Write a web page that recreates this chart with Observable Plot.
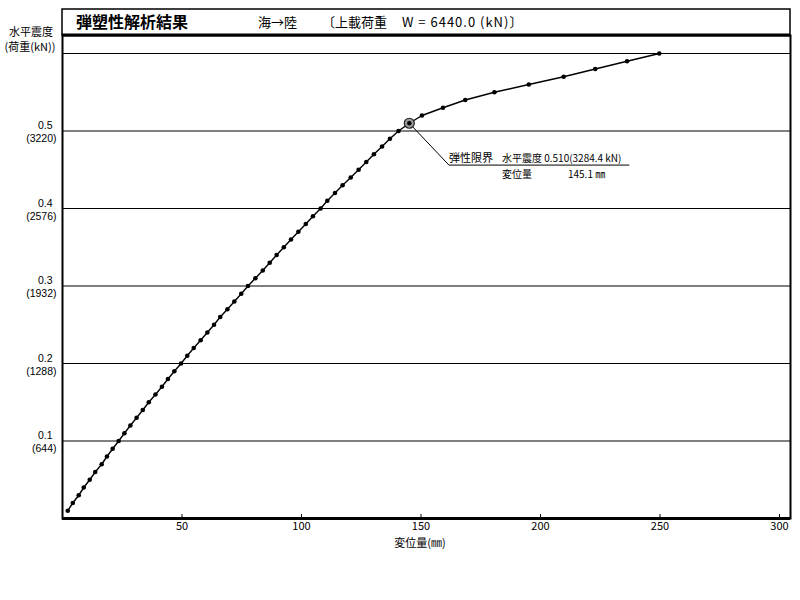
<!DOCTYPE html>
<html><head><meta charset="utf-8">
<script src="https://cdn.jsdelivr.net/npm/d3@7"></script>
<script src="https://cdn.jsdelivr.net/npm/@observablehq/plot@0.6"></script>
<style>
body{margin:0;background:#fff;}
svg{display:block;font-family:"Noto Sans CJK JP","Noto Sans",sans-serif;}
</style>
</head><body><div id="chart"></div>
<script>
// ---- data ----
const W = 6440.0; // 上載荷重 (kN)
const coef = [0.01,0.02,0.03,0.04,0.05,0.06,0.07,0.08,0.09,0.10,
  0.11,0.12,0.13,0.14,0.15,0.16,0.17,0.18,0.19,0.20,
  0.21,0.22,0.23,0.24,0.25,0.26,0.27,0.28,0.29,0.30,
  0.31,0.32,0.33,0.34,0.35,0.36,0.37,0.38,0.39,0.40,
  0.41,0.42,0.43,0.44,0.45,0.46,0.47,0.48,0.49,0.50,
  0.51,0.52,0.53,0.54,0.55,0.56,0.57,0.58,0.59,0.60];
const disp = [2.2,4.3,6.8,8.9,11.4,13.7,16.4,18.6,21.0,23.5,
  25.9,28.4,31.0,33.6,36.1,38.9,41.6,44.1,46.8,49.6,
  52.2,54.9,57.8,60.6,63.4,66.0,69.0,71.9,74.8,77.6,
  80.7,83.8,86.7,89.6,92.6,95.6,98.7,101.8,104.8,108.0,
  110.8,114.0,117.2,120.6,123.9,127.1,130.3,133.7,137.0,140.6,
  145.1,150.4,159.2,168.5,180.7,195.1,209.7,222.9,236.2,249.7];
const yTickValues = [0.1,0.2,0.3,0.4,0.5];
const gridValues = [0.1,0.2,0.3,0.4,0.5,0.6];
const xTickValues = [50,100,150,200,250,300];
const elasticDisp = 145.1;
const elasticCoef = 0.51;
const elasticLoad = 3284.4;
// leader line bend / end in data units
const leaderX = [elasticDisp, 161.7, 237];
const leaderY = [elasticCoef, 0.456, 0.456];

const pts = coef.map((c,i)=>({x:disp[i], y:c}));
const leader = leaderX.map((x,i)=>({x, y:leaderY[i]}));
const ann = [{x:leaderX[1], y:leaderY[1]}];

const fontCJK = '"Noto Sans CJK JP","Noto Sans",sans-serif';
const fontNum = '"Liberation Sans","DejaVu Sans",sans-serif';

const chart = Plot.plot({
  width:800, height:600,
  marginLeft:62, marginRight:10, marginTop:35, marginBottom:82,
  x:{domain:[0,304.6], axis:null},
  y:{domain:[0,0.6232], axis:null},
  style:{fontFamily:fontCJK, background:"#fff"},
  marks:[
    Plot.ruleY(gridValues, {stroke:"#000", strokeWidth:1.2}),
    Plot.tickX(xTickValues, {x:d=>d, insetTop:479, stroke:"#000", strokeWidth:1}),
    Plot.text(xTickValues, {x:d=>d, frameAnchor:"bottom", lineAnchor:"top", dy:4, text:d=>String(d), fontSize:11, fill:"#000"}),
    Plot.text(yTickValues, {y:d=>d, frameAnchor:"left", textAnchor:"end", dx:-10, lineAnchor:"bottom", dy:-1.5,
      text:d=>d.toFixed(1), fontSize:10.5, fontFamily:fontNum, fill:"#000"}),
    Plot.text(yTickValues, {y:d=>d, frameAnchor:"left", textAnchor:"end", dx:-6, lineAnchor:"top", dy:4,
      text:d=>`(${Math.round(d*W)})`, fontSize:10.5, fontFamily:fontNum, fill:"#000"}),
    Plot.line(leader, {x:"x", y:"y", stroke:"#000", strokeWidth:1}),
    Plot.line(pts, {x:"x", y:"y", stroke:"#000", strokeWidth:1.4}),
    Plot.dot(pts, {x:"x", y:"y", r:2.3, fill:"#000", stroke:"none"}),
    Plot.dot([{x:elasticDisp, y:elasticCoef}], {x:"x", y:"y", r:5, fill:"#999", stroke:"#222", strokeWidth:1.2}),
    Plot.dot([{x:elasticDisp, y:elasticCoef}], {x:"x", y:"y", r:2.2, fill:"#000"}),
    Plot.text(ann, {x:"x", y:"y", text:()=>"弾性限界", textAnchor:"start", lineAnchor:"bottom", dy:-3, fontSize:11, fill:"#000"}),
    Plot.text(ann, {x:"x", y:"y", text:()=>`水平震度 ${elasticCoef.toFixed(3)}(${elasticLoad.toFixed(1)} kN)`, textAnchor:"start", lineAnchor:"bottom", dx:53, dy:-3, fontSize:10, fill:"#000"}),
    Plot.text(ann, {x:"x", y:"y", text:()=>"変位量", textAnchor:"start", lineAnchor:"top", dx:53, dy:5.5, fontSize:10, fill:"#000"}),
    Plot.text(ann, {x:"x", y:"y", text:()=>`${elasticDisp.toFixed(1)} ㎜`, textAnchor:"start", lineAnchor:"top", dx:119, dy:5.5, fontSize:10, fill:"#000"}),
    Plot.ruleY([0], {stroke:"#000", strokeWidth:3}),
    Plot.frame({stroke:"#000", strokeWidth:2})
  ]
});

const svg = d3.select(chart);
function addText(x, y, size, str, anchor, weight, spacing) {
  svg.append("text").attr("x", x).attr("y", y).attr("font-size", size)
    .attr("text-anchor", anchor || "start").attr("font-weight", weight || "normal")
    .attr("letter-spacing", spacing || 0)
    .attr("font-family", fontCJK).attr("fill", "#000").text(str);
}
// title box
svg.append("rect").attr("x",62).attr("y",9).attr("width",728).attr("height",26)
  .attr("fill","none").attr("stroke","#000").attr("stroke-width",1.5);
svg.append("line").attr("x1",62).attr("x2",790).attr("y1",35).attr("y2",35)
  .attr("stroke","#000").attr("stroke-width",3);
addText(76, 28, 16, "弾塑性解析結果", "start", "bold");
addText(258, 27, 13, "海→陸");
addText(322, 27, 13, "〔上載荷重");
addText(402, 27, 13, `W = ${W.toFixed(1)} (kN)〕`, "start", "normal", 1);
// y-axis title
addText(31, 36, 11, "水平震度", "middle");
addText(30, 51, 11, "(荷重(kN))", "middle");
// x-axis title
addText(420, 547, 11, "変位量(㎜)", "middle");

document.getElementById("chart").appendChild(chart);
</script>
</body></html>
